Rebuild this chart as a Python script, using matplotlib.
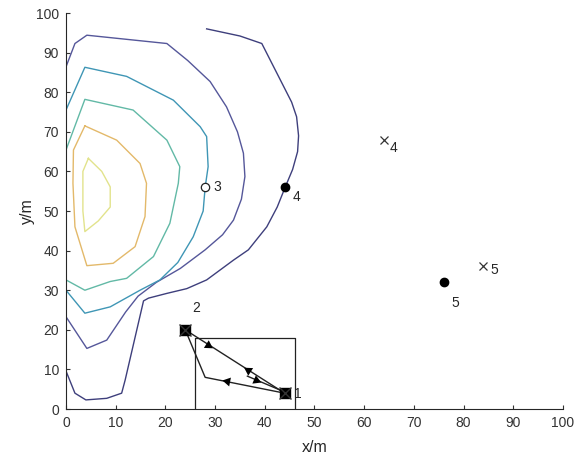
import numpy as np
import matplotlib.pyplot as plt

plt.rcParams["font.family"] = ["Liberation Sans", "DejaVu Sans"]
plt.rcParams["font.size"] = 10

# contour lines, outermost level first
c1_x = [0, 1.8, 4, 8.2, 11.2, 11.9, 15.6, 16.6, 20.3, 24.3, 28.3, 33.7, 36.7, 40.4, 42.5, 44.1, 45.6, 46.6, 46.8, 46.4, 45.4, 39.4, 35.0, 28.3]
c1_y = [9.6, 4.0, 2.3, 2.7, 4.0, 7.3, 27.3, 28.0, 29.2, 30.4, 32.6, 37.6, 40.2, 46.0, 51.0, 56.0, 60.5, 65.0, 69.0, 73.8, 77.5, 92.3, 94.2, 96.0]

c2_x = [0, 4.2, 8.2, 12.0, 14.5, 18.2, 23.0, 28.0, 31.5, 33.7, 35.3, 36.0, 35.7, 34.5, 32.3, 29.0, 24.5, 20.3, 4.2, 1.8, 0]
c2_y = [23.3, 15.3, 17.4, 24.5, 28.5, 32.0, 35.5, 40.2, 44.0, 47.7, 53.0, 58.7, 64.6, 70.0, 76.3, 82.7, 88.0, 92.3, 94.4, 92.3, 86.4]

c3_x = [0, 3.8, 8.9, 14.9, 18.9, 22.5, 25.6, 27.6, 28.0, 28.6, 28.3, 27.0, 21.6, 12.2, 3.8, 0]
c3_y = [30.0, 24.2, 25.8, 30.0, 32.6, 37.0, 43.5, 50.0, 56.0, 61.2, 68.8, 71.3, 78.0, 84.0, 86.3, 75.5]

c4_x = [0, 3.8, 8.9, 12.2, 17.6, 20.9, 22.6, 22.9, 20.3, 13.5, 3.8, 0]
c4_y = [32.6, 30.0, 32.2, 33.0, 38.5, 46.9, 57.0, 61.2, 67.9, 75.5, 78.2, 65.4]

c5_x = [3.8, 10.2, 14.9, 16.2, 15.9, 13.9, 9.5, 4.2, 1.8, 1.4, 1.5, 3.8]
c5_y = [71.5, 67.9, 62.0, 57.0, 48.6, 41.0, 36.8, 36.2, 46.0, 57.0, 65.4, 71.5]

c6_x = [4.5, 7.2, 8.9, 8.9, 6.5, 3.8, 3.4, 3.4, 4.5]
c6_y = [63.3, 60.0, 56.1, 51.0, 47.5, 44.8, 50.0, 60.0, 63.3]

contours_x = [c1_x, c2_x, c3_x, c4_x, c5_x, c6_x]
contours_y = [c1_y, c2_y, c3_y, c4_y, c5_y, c6_y]
contour_colors = ["#3e3f7c", "#55579a", "#3f96b5", "#62b9a6", "#e3b96a", "#e2e38c"]

# route between sites 1 and 2
route_a_x = [24, 44]
route_a_y = [20, 4]
route_b_x = [44, 28, 24]
route_b_y = [4, 8, 20]
route_c_x = [44, 36.5]
route_c_y = [4.3, 8.3]
# arrow heads: x, y, direction (dx, dy)
arrow_x = [28.6, 36.7, 38.3, 32.3]
arrow_y = [16.1, 9.8, 7.4, 7.0]
arrow_dx = [20, -20, 7.5, -16]
arrow_dy = [-16, 16, -4.0, 4]

# site markers and labels
sites_x = [44, 24]
sites_y = [4, 20]
open_x, open_y = [28], [56]
dots_x = [44, 76]
dots_y = [56, 32]
cross_x = [64, 84]
cross_y = [68, 36]
labels = ["1", "2", "3", "4", "4", "5", "5"]
label_x = [46.7, 26.2, 30.4, 46.3, 65.8, 86.1, 78.3]
label_y = [3.8, 25.5, 56.0, 53.5, 65.9, 35.1, 26.8]

rect_x = [26, 26, 46, 46]
rect_y = [0, 18, 18, 0]

fig = plt.figure(figsize=(5.84, 4.57), dpi=100)
ax = fig.add_axes([0.113, 0.105, 0.851, 0.8665])
ax.set_xlim(0, 100)
ax.set_ylim(0, 100)

for xs, ys, col in zip(contours_x, contours_y, contour_colors):
    ax.plot(xs, ys, color=col, lw=1.0)

ax.plot(rect_x, rect_y, color="#222222", lw=0.9)
ax.plot(route_a_x, route_a_y, color="#222222", lw=1.0)
ax.plot(route_b_x, route_b_y, color="#222222", lw=1.0)
ax.plot(route_c_x, route_c_y, color="#222222", lw=1.0)

# triangle heads rotated along the route in screen space
for x, y, dx, dy in zip(arrow_x, arrow_y, arrow_dx, arrow_dy):
    p0 = ax.transData.transform((x, y))
    p1 = ax.transData.transform((x + dx, y + dy))
    ang = np.degrees(np.arctan2(p1[1] - p0[1], p1[0] - p0[0]))
    ax.plot(x, y, marker=(3, 0, ang - 90), color="black", markersize=7.5, mew=0)

ax.plot(sites_x, sites_y, "s", color="black", markersize=6.5)
ax.plot(sites_x, sites_y, "x", color="#333333", markersize=8.5, mew=1)
ax.plot(open_x, open_y, "o", mfc="white", mec="#222222", markersize=6, mew=0.9)
ax.plot(dots_x, dots_y, "o", color="black", markersize=6)
ax.plot(cross_x, cross_y, "x", color="#333333", markersize=6, mew=0.9)

for t, x, y in zip(labels, label_x, label_y):
    ax.text(x, y, t, ha="center", va="center", fontsize=10, color="#262626")

ax.set_xticks(np.arange(0, 101, 10))
ax.set_yticks(np.arange(0, 101, 10))
ax.tick_params(direction="in", length=3, width=0.8, colors="#333333", labelsize=10, pad=5)
for s in ["top", "right"]:
    ax.spines[s].set_visible(False)
for s in ["left", "bottom"]:
    ax.spines[s].set_color("#262626")
    ax.spines[s].set_linewidth(0.8)
ax.set_xlabel("x/m", fontsize=11.5, color="#262626", labelpad=7)
ax.set_ylabel("y/m", fontsize=11.5, color="#262626", labelpad=1)

fig.savefig("out.png", dpi=100)
